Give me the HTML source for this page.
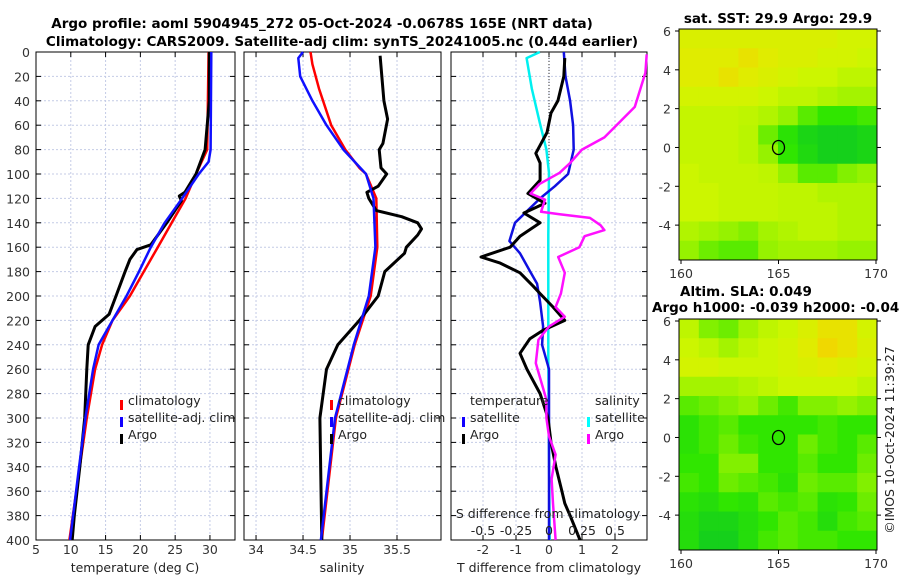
<!DOCTYPE html>
<html><head><meta charset="utf-8"><style>
body{margin:0;background:#fff;}
svg{display:block;font-family:"DejaVu Sans","Liberation Sans",sans-serif;}
</style></head><body>
<svg id="c" width="900" height="580" viewBox="0 0 900 580">
<text x="322" y="28" text-anchor="middle" font-size="13.5" font-weight="bold">Argo profile: aoml 5904945_272 05-Oct-2024 -0.0678S 165E (NRT data)</text>
<text x="342" y="46" text-anchor="middle" font-size="13.5" font-weight="bold">Climatology: CARS2009. Satellite-adj clim: synTS_20241005.nc (0.44d earlier)</text>
<text x="778" y="23" text-anchor="middle" font-size="13.5" font-weight="bold">sat. SST: 29.9 Argo: 29.9</text>
<text x="680" y="296" font-size="13.5" font-weight="bold">Altim. SLA: 0.049</text>
<text x="652" y="312" font-size="13.5" font-weight="bold">Argo h1000: -0.039 h2000: -0.045</text>
<text transform="translate(894,440) rotate(-90)" text-anchor="middle" font-size="12.5" fill="#222">©IMOS 10-Oct-2024 11:39:27</text>
</svg>
<script>
// ---- data ----
const depthTicks=[0,20,40,60,80,100,120,140,160,180,200,220,240,260,280,300,320,340,360,380,400];
const tempTicks=[5,10,15,20,25,30];
const salTicks=[34,34.5,35,35.5];
const tdiffTicks=[-2,-1,0,1,2];
const sdiffTicks=[-0.5,-0.25,0,0.25,0.5];
const sdiffLabels=['-0.5','-0.25','0','0.25','0.5'];
const tClimD=[0,80,100,120,140,160,180,200,220,240,260,300,340,400];
const tClimV=[29.8,29.6,28,26.5,24.5,22.5,20.5,18.5,16,14.5,13.5,12.3,11.3,9.8];
const tSatD=[0,80,90,100,120,140,160,180,200,220,240,260,300,340,400];
const tSatV=[30.2,30.1,29.8,28.4,26,23.5,21.5,19.8,18,16,14,13.2,12.1,11.2,9.9];
const tArgoD=[0,40,80,100,115,118,122,140,158,162,170,180,200,215,225,240,260,300,340,380,400];
const tArgoV=[29.9,29.9,29.3,28,26.4,25.6,25.9,23.8,21.5,19.5,18.5,17.8,16.5,15.5,13.5,12.5,12.3,12,11.3,10.5,10.2];
const sClimD=[0,10,30,60,80,95,100,120,160,200,240,300,400];
const sClimV=[34.58,34.6,34.67,34.8,34.95,35.1,35.17,35.28,35.29,35.22,35.05,34.85,34.7];
const sSatD=[0,5,20,40,60,80,100,120,160,200,240,300,400];
const sSatV=[34.5,34.45,34.47,34.6,34.75,34.93,35.17,35.25,35.27,35.2,35.04,34.84,34.69];
const sArgoD=[3,40,55,75,80,95,100,110,115,120,130,135,140,145,150,160,165,180,200,220,240,260,300,400];
const sArgoV=[35.32,35.36,35.4,35.35,35.31,35.33,35.39,35.3,35.18,35.2,35.28,35.55,35.72,35.76,35.72,35.6,35.58,35.37,35.3,35.1,34.87,34.75,34.68,34.7];
const dTSatD=[0,20,40,60,80,100,110,120,140,155,165,180,190,205,225,240,260,400];
const dTSatV=[0.45,0.5,0.64,0.73,0.75,0.58,0.18,-0.27,-1.03,-1.2,-0.88,-0.57,-0.36,-0.27,-0.18,-0.21,0,0];
const dTArgoD=[5,20,40,50,66,83,91,105,116,124,132,140,151,160,168,173,181,192,198,209,220,228,235,247,260,280,300,320,340,360,370,380,400];
const dTArgoV=[0.48,0.45,0.27,0.06,-0.06,-0.4,-0.27,-0.27,-0.64,-0.12,-0.76,-0.27,-0.88,-1.18,-2.06,-1.48,-0.88,-0.48,-0.27,0.12,0.48,-0.18,-0.58,-0.88,-0.67,-0.27,-0.03,0.06,0.21,0.39,0.48,0.64,0.94];
const dSSatD=[0,5,30,58,80,99,150,250,400];
const dSSatV=[-0.07,-0.17,-0.13,-0.07,-0.02,0,-0.005,-0.005,0.005];
const dSArgoD=[2,17,45,70,80,91,99,108,116,121,131,133,136,142,146,151,160,168,181,198,209,217,225,236,255,285,300,315,330,350,370,400];
const dSArgoV=[0.74,0.73,0.65,0.42,0.25,0.16,0.08,-0.07,-0.14,-0.03,-0.06,0.08,0.31,0.39,0.42,0.27,0.23,0.07,0.12,0.09,0.05,0.12,0,-0.08,-0.1,-0.02,-0.02,0,0.05,0.02,0.03,0.05];
const sstGrid=[
[.85,.85,.85,.85,.85,.85,.85,.85,.8,.8],
[.9,.9,.9,.95,.9,.85,.85,.8,.8,.75],
[.9,.9,.95,.9,.85,.8,.75,.75,.7,.7],
[.8,.8,.8,.8,.75,.7,.7,.65,.6,.6],
[.72,.72,.72,.7,.65,.55,.4,.3,.3,.35],
[.72,.72,.72,.68,.45,.25,.1,.05,.05,.1],
[.72,.72,.72,.68,.55,.3,.15,.05,.05,.1],
[.75,.72,.72,.72,.7,.55,.4,.4,.5,.55],
[.75,.75,.72,.72,.72,.7,.7,.65,.65,.65],
[.75,.75,.72,.72,.72,.7,.7,.7,.65,.65],
[.65,.6,.55,.5,.6,.65,.7,.7,.65,.65],
[.55,.45,.4,.4,.55,.6,.6,.6,.55,.55]];
const slaGrid=[
[.7,.5,.45,.6,.7,.75,.85,.95,.95,.8],
[.75,.7,.6,.7,.75,.8,.9,1,.95,.85],
[.8,.8,.75,.75,.75,.8,.85,.9,.85,.8],
[.6,.6,.6,.65,.7,.75,.75,.75,.75,.7],
[.4,.45,.5,.55,.45,.35,.5,.5,.55,.5],
[.25,.35,.4,.3,.3,.3,.3,.35,.3,.3],
[.25,.35,.45,.35,.3,.3,.45,.35,.3,.4],
[.3,.3,.5,.5,.3,.3,.4,.3,.3,.45],
[.35,.3,.45,.4,.35,.25,.45,.4,.4,.5],
[.25,.2,.3,.25,.4,.35,.4,.25,.3,.45],
[.2,.1,.1,.2,.3,.4,.35,.2,.35,.4],
[.2,.05,.05,.2,.35,.4,.35,.35,.3,.3]];
const lonTicks=[160,165,170];
const latTicks=[6,4,2,0,-2,-4];

// ---- helpers ----
const svg=document.getElementById('c');
const NS='http://www.w3.org/2000/svg';
function mk(tag,attrs,parent){const e=document.createElementNS(NS,tag);for(const k in attrs)e.setAttribute(k,attrs[k]);(parent||svg).appendChild(e);return e;}
const Y0=52,Y1=540;
const yD=d=>Y0+(d/400)*(Y1-Y0);

function panel(name,x0,x1,xmin,xmax,ticks,grid){
  const g=mk('g',{});
  
  
  const xs=v=>x0+(v-xmin)/(xmax-xmin)*(x1-x0);
  depthTicks.forEach(d=>{
    if(d>0&&d<400)mk('line',{x1:x0,x2:x1,y1:yD(d),y2:yD(d),stroke:'#c4cbe6','stroke-width':1,'stroke-dasharray':'2,2'},g);
    mk('line',{x1:x0,x2:x0+5,y1:yD(d),y2:yD(d),stroke:'#000'},g);
    mk('line',{x1:x1-5,x2:x1,y1:yD(d),y2:yD(d),stroke:'#000'},g);
  });
  grid.forEach(v=>{
    const x=xs(v);
    mk('line',{x1:x,x2:x,y1:Y0,y2:Y1,stroke:'#c4cbe6','stroke-width':1,'stroke-dasharray':'2,2'},g);
    mk('line',{x1:x,x2:x,y1:Y1-5,y2:Y1,stroke:'#000'},g);
    mk('line',{x1:x,x2:x,y1:Y0,y2:Y0+5,stroke:'#000'},g);
  });
  ticks.forEach(v=>{
    const t=mk('text',{x:xs(v),y:554,'text-anchor':'middle','font-size':12.5,fill:'#333'},g);
    t.textContent=v;
  });
  mk('rect',{x:x0,y:Y0,width:x1-x0,height:Y1-Y0,fill:'none',stroke:'#000','stroke-width':1},g);
  return {g,xs};
}
function line(p,D,V,color,name,w,scale){
  const pts=D.map((d,i)=>p.xs(V[i]*(scale||1)).toFixed(1)+','+yD(d).toFixed(1)).join(' ');
  const l=mk('polyline',{points:pts,fill:'none',stroke:color,'stroke-width':w||2.5,'stroke-linejoin':'round'},p.g);
  
  
}
function txt(x,y,s,name,opts){
  const t=mk('text',Object.assign({x:x,y:y,'font-size':12.5,fill:'#222'},opts||{}));
  t.textContent=s;
  
  
  return t;
}
function mark(x,y,color){mk('rect',{x:x,y:y-10,width:3,height:10,fill:color});}

depthTicks.forEach(d=>{
  const t=mk('text',{x:30,y:yD(d)+5,'text-anchor':'end','font-size':12.5,fill:'#333'});
  t.textContent=d;
  
  
});

const p1=panel('temperature-panel',36,235,5,33.6,tempTicks,[10,15,20,25,30]);
line(p1,tClimD,tClimV,'#ff0000','temp-climatology-line');
line(p1,tArgoD,tArgoV,'#000','temp-argo-line',3);
line(p1,tSatD,tSatV,'#1010ff','temp-satellite-line');
txt(135,572,'temperature (deg C)','temperature-axis-title',{'text-anchor':'middle'});
mark(120,410,'#f00');txt(128,405,'climatology','legend-climatology');
mark(120,427,'#10f');txt(128,422,'satellite-adj. clim','legend-satellite');
mark(120,444,'#000');txt(128,439,'Argo','legend-argo');

const p2=panel('salinity-panel',244,441,33.872,35.968,salTicks,salTicks);
line(p2,sClimD,sClimV,'#ff0000','sal-climatology-line');
line(p2,sArgoD,sArgoV,'#000','sal-argo-line',3);
line(p2,sSatD,sSatV,'#1010ff','sal-satellite-line');
txt(342,572,'salinity','salinity-axis-title',{'text-anchor':'middle'});
mark(330,410,'#f00');txt(338,405,'climatology','legend2-climatology');
mark(330,427,'#10f');txt(338,422,'satellite-adj. clim','legend2-satellite');
mark(330,444,'#000');txt(338,439,'Argo','legend2-argo');

const p3=panel('difference-panel',451,647,-2.97,2.97,tdiffTicks,tdiffTicks);
mk('line',{x1:p3.xs(0),x2:p3.xs(0),y1:Y0,y2:Y1,stroke:'#333','stroke-dasharray':'1,2'},p3.g);
line(p3,dSSatD,dSSatV,'#00f0f0','sdiff-satellite-line',2.5,4);
line(p3,dTSatD,dTSatV,'#1010e0','tdiff-satellite-line');
line(p3,dTArgoD,dTArgoV,'#000','tdiff-argo-line',3);
line(p3,dSArgoD,dSArgoV,'#ff10ff','sdiff-argo-line',2.5,4);
txt(549,572,'T difference from climatology','tdiff-axis-title',{'text-anchor':'middle'});
txt(548,518,'S difference from climatology','sdiff-axis-title',{'text-anchor':'middle'});
sdiffTicks.forEach((v,i)=>{txt(p3.xs(v*4),535,sdiffLabels[i],'sdiff-tick-label',{'text-anchor':'middle'});});
txt(470,405,'temperature','legend3-temperature-header');
txt(595,405,'salinity','legend3-salinity-header');
mark(462,427,'#10f');txt(470,422,'satellite','legend3-t-satellite');
mark(462,444,'#000');txt(470,439,'Argo','legend3-t-argo');
mark(587,427,'#0ff');txt(595,422,'satellite','legend3-s-satellite');
mark(587,444,'#f0f');txt(595,439,'Argo','legend3-s-argo');

function cmap(v){
  const stops=[[0,[16,204,32]],[0.3,[48,230,0]],[0.55,[150,242,0]],[0.75,[204,246,0]],[0.9,[224,236,0]],[1,[240,216,0]]];
  for(let i=1;i<stops.length;i++){if(v<=stops[i][0]){const a=stops[i-1],b=stops[i],t=(v-a[0])/(b[0]-a[0]);return 'rgb('+a[1].map((c,k)=>Math.round(c+(b[1][k]-c)*t)).join(',')+')';}}
  return 'rgb(240,216,0)';
}
function map(name,grid,top,bottom){
  const g=mk('g',{});
  
  
  const L=679,R=877;
  const lx=lon=>681+(lon-160)*19.5;
  const ly=lat=>top+2+(6-lat)*((bottom-top)/11.9);
  const rows=grid.length,cols=grid[0].length;
  const cw=(R-L)/cols,ch=(bottom-top)/rows;
  grid.forEach((row,r)=>row.forEach((v,c)=>{
    const cell=mk('rect',{x:L+c*cw,y:top+r*ch,width:cw+0.5,height:ch+0.5,fill:cmap(v)},g);
    
    
  }));
  mk('rect',{x:L,y:top,width:R-L,height:bottom-top,fill:'none',stroke:'#000'},g);
  mk('ellipse',{cx:lx(165),cy:ly(0),rx:6,ry:7,fill:'none',stroke:'#000','stroke-width':1.3},g);
  lonTicks.forEach(v=>{
    mk('line',{x1:lx(v),x2:lx(v),y1:bottom,y2:bottom+4,stroke:'#000'},g);
    const t=mk('text',{x:lx(v),y:bottom+18,'text-anchor':'middle','font-size':12.5,fill:'#333'},g);t.textContent=v;
  });
  latTicks.forEach(v=>{
    mk('line',{x1:L-4,x2:L,y1:ly(v),y2:ly(v),stroke:'#000'},g);
    mk('line',{x1:R,x2:R+4,y1:ly(v),y2:ly(v),stroke:'#000'},g);
    const t=mk('text',{x:L-8,y:ly(v)+5,'text-anchor':'end','font-size':12.5,fill:'#333'},g);t.textContent=v;
  });
}
map('sst-map',sstGrid,29,260);
map('sla-map',slaGrid,319,550);
</script>
</body></html>
